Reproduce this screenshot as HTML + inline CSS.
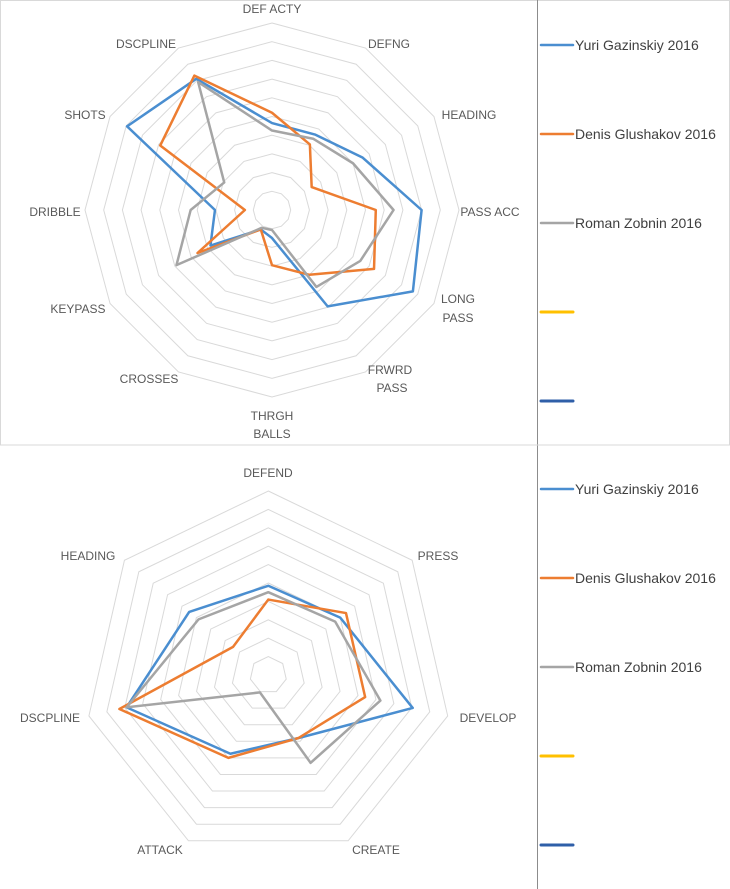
<!DOCTYPE html>
<html><head><meta charset="utf-8"><style>
html,body{margin:0;padding:0;background:#fff;width:730px;height:889px;overflow:hidden}
svg{display:block;font-family:"Liberation Sans",sans-serif}
</style></head><body>
<svg id="s" width="730" height="889" viewBox="0 0 730 889">
<rect x="0.5" y="0.5" width="729" height="444.5" fill="none" stroke="#d9d9d9"/>
<line x1="537.5" y1="0" x2="537.5" y2="889" stroke="#8c8c8c"/>
<g id="top"></g>
<g id="bot"></g>
<g id="leg"></g>
</svg>
<script>
const seriesNames = ["Yuri Gazinskiy 2016","Denis Glushakov 2016","Roman Zobnin 2016"];
const topCategories = ["DEF ACTY","DEFNG","HEADING","PASS ACC","LONG PASS","FRWRD PASS","THRGH BALLS","CROSSES","KEYPASS","DRIBBLE","SHOTS","DSCPLINE"];
const topYuri    = [4.65,4.65,5.6,8.0,8.7,5.95,1.5,1.2,3.8,3.05,8.95,8.1];
const topDenis   = [5.2,4.05,2.45,5.55,6.3,4.0,2.95,1.2,4.6,1.45,6.9,8.3];
const topRoman   = [4.25,4.4,5.0,6.5,5.45,4.75,1.07,1.1,5.9,4.35,2.95,7.9];
const botCategories = ["DEFEND","PRESS","DEVELOP","CREATE","ATTACK","DSCPLINE","HEADING"];
const botYuri    = [4.85,5.0,8.05,3.8,4.75,7.9,5.5];
const botDenis   = [4.1,5.4,5.4,3.8,5.0,8.3,2.45];
const botRoman   = [4.5,4.65,6.25,5.3,1.05,7.9,4.85];
const maxValue = 10;

const colors = ["#4a8ed0","#ed7d31","#a5a5a5"];
const legendExtra = ["#ffc000","#2f5fa8"];
const NS = "http://www.w3.org/2000/svg";
function mk(tag, attrs, parent){const e=document.createElementNS(NS,tag);for(const k in attrs)e.setAttribute(k,attrs[k]);parent.appendChild(e);return e;}

const topLabelPos = [[[272,13]],[[389,48]],[[469,119]],[[490,216]],[[458,303],[458,322]],[[390,374],[392,392]],[[272,420],[272,438]],[[149,383]],[[78,313]],[[55,216]],[[85,119]],[[146,48]]];
const botLabelPos = [[[268,477]],[[438,560]],[[488,722]],[[376,854]],[[160,854]],[[50,722]],[[88,560]]];

function radar(g, cx, cy, R, cats, series, labelPos, prefix){
  const n = cats.length;
  const ang = i => i*2*Math.PI/n;
  const pt = (i,v) => [cx + Math.sin(ang(i))*R*v/maxValue, cy - Math.cos(ang(i))*R*v/maxValue];
  for(let r=1;r<=maxValue;r++){
    const pts=[];for(let i=0;i<n;i++)pts.push(pt(i,r).join(","));
    const p=mk("polygon",{points:pts.join(" "),fill:"none",stroke:"#d9d9d9","stroke-width":1},g);
    
    
  }
  cats.forEach((c,i)=>{
    const words = labelPos[i].length>1 ? c.split(" ") : [c];
    labelPos[i].forEach((pos,j)=>{
      const t=mk("text",{x:pos[0],y:pos[1],"text-anchor":"middle","font-size":12,fill:"#595959"},g);
      t.textContent=words[j];
      
      
    });
  });
  series.forEach((vals,s)=>{
    const pts=vals.map((v,i)=>pt(i,v).join(","));
    const p=mk("polygon",{points:pts.join(" "),fill:"none",stroke:colors[s],"stroke-width":2.5,"stroke-linejoin":"round"},g);
    
    
  });
}
radar(document.getElementById("top"),272,210,187,topCategories,[topYuri,topDenis,topRoman],topLabelPos,"top");
radar(document.getElementById("bot"),268.3,675,184,botCategories,[botYuri,botDenis,botRoman],botLabelPos,"bottom");

const leg=document.getElementById("leg");
const hl=mk("line",{x1:537,y1:445,x2:730,y2:445,stroke:"#d9d9d9"},leg);


[45,489].forEach((y0,k)=>{
  const allCols=colors.concat(legendExtra);
  allCols.forEach((c,i)=>{
    const y=y0+i*89;
    const l=mk("line",{x1:541,y1:y,x2:573,y2:y,stroke:c,"stroke-width":i<3?2.5:3,"stroke-linecap":"round"},leg);
    
    
    if(i<3){
      const t=mk("text",{x:575,y:y+5,"font-size":14,fill:"#404040"},leg);
      t.textContent=seriesNames[i];
      
      
    }
  });
});
</script>
</body></html>
